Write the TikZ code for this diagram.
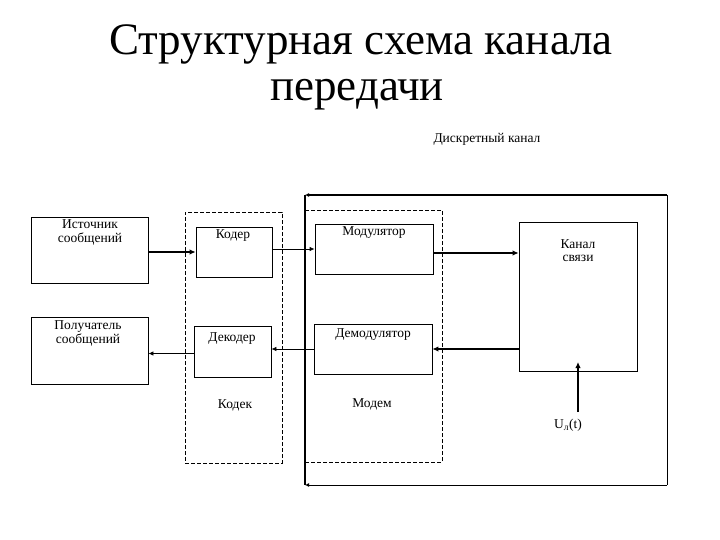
\documentclass[tikz,border=0pt]{standalone}
\usepackage{fontspec}
\setmainfont{Liberation Serif}
\usetikzlibrary{arrows.meta}
\tikzset{
  blk/.style={draw, line width=0.8pt, inner sep=0pt, rectangle},
  grp/.style={draw, dash pattern=on 4pt off 2pt, line width=0.8pt, inner sep=0pt, rectangle},
  lbl/.style={anchor=base, inner sep=0pt, font=\fontsize{13.5}{15}\selectfont},
  ttl/.style={anchor=base, inner sep=0pt, font=\fontsize{45}{47}\selectfont},
  thin/.style={line width=0.8pt, -{Latex[length=5pt,width=4.5pt]}},
  thick/.style={line width=2pt, -{Latex[length=6pt,width=5.5pt]}},
}
\begin{document}
\begin{tikzpicture}[x=1pt,y=-1pt]
\useasboundingbox (0,0) rectangle (720,540);
% title
\node[ttl] (t1) at (361,55) {Структурная схема канала};
\node[ttl] (t2) at (357,101) {передачи};
\node[lbl] (disc) at (487,143) {Дискретный канал};
% dashed groups
\node[grp, minimum width=97pt, minimum height=251pt] (codec) at (233.5,337.5) {};
\node[grp, minimum width=137pt, minimum height=252pt] (modem) at (373.5,336) {};
% blocks
\node[blk, minimum width=117pt, minimum height=66pt] (src) at (89.5,250) {};
\node[blk, minimum width=117pt, minimum height=67pt] (rcv) at (89.5,350.5) {};
\node[blk, minimum width=76pt, minimum height=50pt] (cod) at (234,252) {};
\node[blk, minimum width=77pt, minimum height=51pt] (dec) at (232.5,351.5) {};
\node[blk, minimum width=118pt, minimum height=50pt] (mod) at (374,249) {};
\node[blk, minimum width=118pt, minimum height=50pt] (dem) at (373,349) {};
\node[blk, minimum width=118pt, minimum height=149pt] (chan) at (578,296.5) {};
% labels
\node[lbl] (srcA) at (90,229) {Источник};
\node[lbl] (srcB) at (90,243) {сообщений};
\node[lbl] (rcvA) at (88,329) {Получатель};
\node[lbl] (rcvB) at (88,343) {сообщений};
\node[lbl] (codL) at (233,238) {Кодер};
\node[lbl] (decL) at (232,341) {Декодер};
\node[lbl] (codecL) at (235,408) {Кодек};
\node[lbl] (modL) at (374,236) {Модулятор};
\node[lbl] (demL) at (373,337) {Демодулятор};
\node[lbl] (modemL) at (372,407) {Модем};
\node[lbl] (chanA) at (578,248) {Канал};
\node[lbl] (chanB) at (578,261) {связи};
\node[lbl] (noise) at (568,428) {U\textsubscript{л}(t)};
% feedback frame
\coordinate (tr) at (667,195);
\coordinate (tl) at (305,195);
\coordinate (br) at (667,485);
\coordinate (bl) at (305,485);
\coordinate (nz) at (578,412);
\coordinate (nzt) at (578,362);
\draw[line width=0.8pt] (tr) -- (br);
\draw[line width=1.5pt] (tl) -- (bl);
\draw[line width=2pt, -{Latex[length=4pt,width=4pt]}] (tr) -- (tl);
\draw[thin, -{Latex[length=4pt,width=4pt]}] (br) -- (bl);
% connectors
\draw[thick] (src.east |- cod.west) -- (cod.west);
\draw[thin] (cod.east |- mod.west) -- (mod.west);
\draw[thick] ([yshift=-4pt]mod.east) -- ([yshift=-4pt]mod.east -| chan.west);
\draw[thick] (dem.east -| chan.west) -- (dem.east);
\draw[thin] (dem.west) -- (dem.west -| dec.east);
\draw[thin] ([yshift=-2pt]dec.west) -- ([yshift=-2pt]dec.west -| rcv.east);
\draw[thick] (nz) -- (nzt);
\end{tikzpicture}
\end{document}
